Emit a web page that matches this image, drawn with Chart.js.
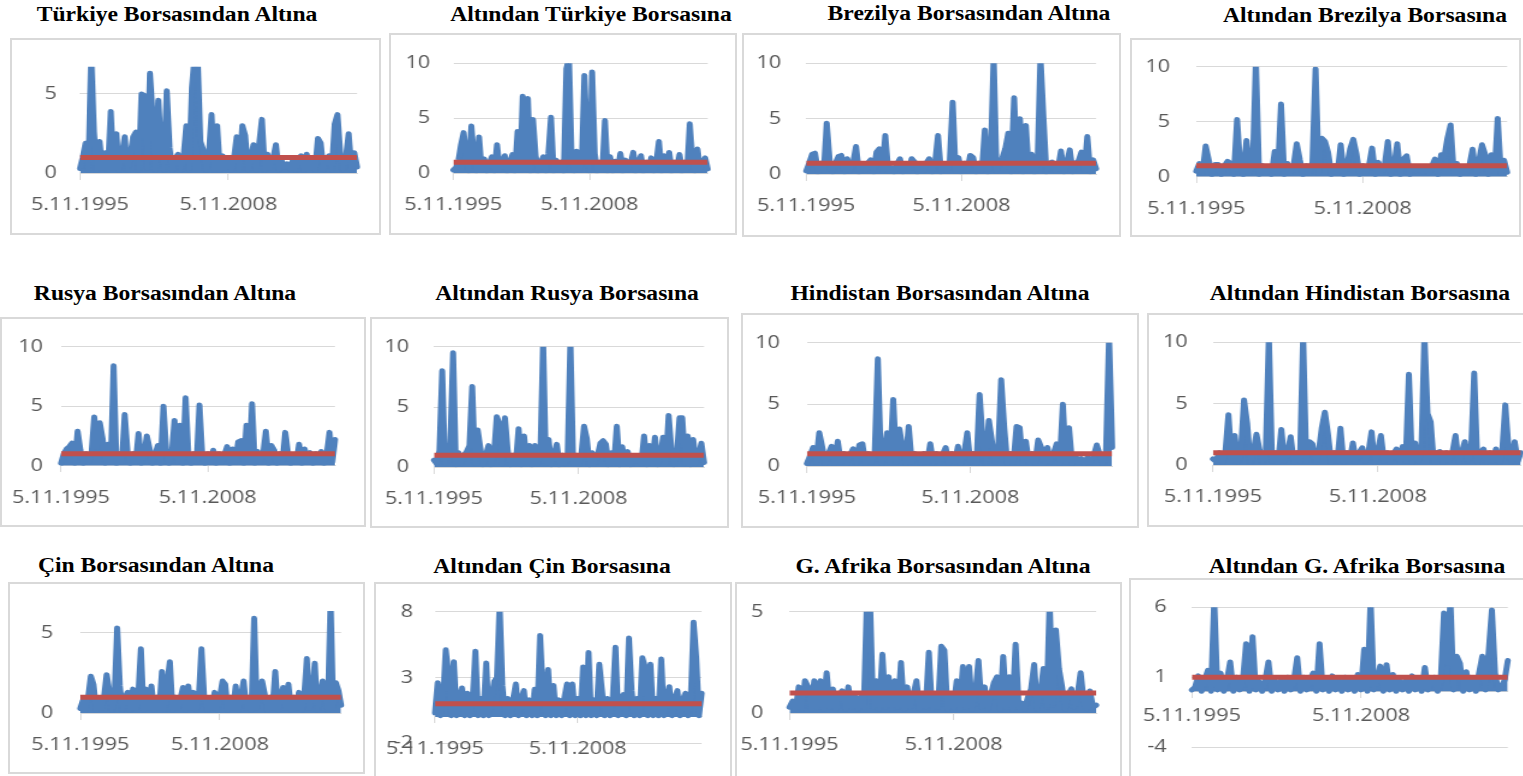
<!DOCTYPE html>
<html>
<head>
<meta charset="utf-8">
<script src="https://cdn.jsdelivr.net/npm/chart.js@4/dist/chart.umd.min.js"></script>
<style>
html, body { margin: 0; padding: 0; background: #fff; }
body { width: 1523px; height: 776px; position: relative; overflow: hidden; }
.title { position: absolute; font-family: "Liberation Serif", "Times New Roman", serif; font-weight: bold;
  font-size: 20px; line-height: 20px; white-space: nowrap; color: #000; transform: translateX(-50%) scaleX(1.18); }
.box { position: absolute; border: 2px solid #d9d9d9; box-sizing: border-box; }
.plot { position: absolute; transform-origin: 0 0; }
</style>
</head>
<body>
<script>
// x axis: observation index of each labelled date
var xTickLabels = ['5.11.1995', '5.11.2008'];
var xTickIndex = [0, 53];
var refLevel = 1;

var titles = [
  'Türkiye Borsasından Altına', 'Altından Türkiye Borsasına',
  'Brezilya Borsasından Altına', 'Altından Brezilya Borsasına',
  'Rusya Borsasından Altına', 'Altından Rusya Borsasına',
  'Hindistan Borsasından Altına', 'Altından Hindistan Borsasına',
  'Çin Borsasından Altına', 'Altından Çin Borsasına',
  'G. Afrika Borsasından Altına', 'Altından G. Afrika Borsasına'
];

var trToGold = [0.3,1.0,1.9,0.2,7.5,2.6,0.2,2.0,0.3,1.3,
  0.2,3.9,0.3,2.5,0.2,1.1,2.3,0.2,1.0,2.3,
  2.6,0.2,5.0,4.9,0.3,6.3,3.5,0.2,4.6,1.5,
  0.2,5.2,1.6,0.2,0.9,1.2,0.2,1.0,3.0,0.2,
  5.4,7.5,7.5,2.0,1.5,0.2,1.0,3.7,0.2,3.0,
  0.2,1.1,0.3,1.0,0.2,0.9,2.3,0.2,3.0,2.4,
  0.2,1.0,1.8,0.2,1.8,3.4,0.2,1.2,0.3,0.9,
  1.8,0.2,0.8,0.4,0.6,0.3,0.8,0.2,0.9,1.1,
  0.2,1.2,0.3,0.9,0.2,2.2,1.9,0.2,0.9,1.1,
  0.2,3.1,3.7,1.2,0.2,1.0,2.5,0.2,1.3,0.4];

var goldToTr = [0.3,0.5,1.2,2.6,3.7,1.5,0.2,4.3,1.4,0.2,
  3.3,0.3,1.3,0.2,0.9,1.5,0.2,2.6,0.3,1.0,
  1.6,0.2,1.0,1.7,0.2,3.8,0.3,7.0,0.4,6.8,
  0.2,4.9,1.6,0.2,1.0,1.5,0.2,1.8,5.1,0.2,
  1.2,0.3,1.0,0.2,9.5,10.5,1.5,0.2,2.0,0.3,
  1.0,8.9,2.0,0.2,9.2,1.8,0.2,1.0,0.3,4.8,
  0.2,1.5,0.2,1.1,0.3,1.8,0.2,1.2,0.3,0.9,
  1.9,0.2,1.0,1.6,0.2,1.0,0.3,1.4,0.2,1.0,
  2.9,0.2,1.6,0.3,1.9,0.2,1.0,0.3,1.7,0.2,
  1.0,0.3,4.5,1.4,0.2,2.2,0.3,1.0,1.4,0.4];

var brToGold = [0.3,1.0,1.8,1.9,0.2,1.0,0.3,4.6,1.2,0.2,
  1.0,1.6,1.7,0.2,1.4,0.3,1.0,2.5,0.2,0.9,
  0.3,1.0,1.3,0.2,2.0,2.3,0.3,3.5,0.3,0.6,
  0.2,0.9,1.4,0.2,0.9,0.3,1.4,1.1,0.2,0.9,
  0.3,1.0,1.4,0.2,1.0,3.5,0.2,0.9,0.3,1.0,
  6.5,0.3,1.5,0.2,1.0,0.3,1.7,1.5,0.2,1.0,
  0.3,4.0,0.2,1.2,10.5,0.3,1.0,1.5,2.3,3.7,
  0.2,6.9,0.3,5.0,0.2,4.4,0.3,1.8,0.2,1.0,
  10.5,5.2,0.2,1.0,1.1,0.3,0.5,2.1,0.2,1.0,
  2.2,0.2,1.0,1.2,2.0,0.3,3.4,0.2,1.3,0.5];

var goldToBr = [0.5,1.2,0.3,2.8,1.5,0.2,1.1,1.1,0.2,1.0,
  1.4,1.2,0.2,5.2,1.0,0.2,3.3,0.3,1.0,10.5,
  0.2,1.0,0.3,0.9,0.2,2.3,0.3,6.6,0.2,1.2,
  0.3,1.0,3.0,1.5,0.2,1.0,0.3,1.3,9.8,0.3,
  3.5,3.2,2.2,0.2,1.0,0.3,2.9,0.2,1.0,2.5,
  3.4,2.1,0.2,1.0,0.3,1.0,2.6,0.2,1.3,0.3,
  1.0,3.2,0.2,1.0,3.0,0.2,1.6,1.9,0.2,0.9,
  0.5,0.8,0.4,0.8,0.3,0.9,1.6,0.2,2.0,1.8,
  3.5,4.7,0.3,1.2,0.2,0.8,0.3,1.0,2.5,0.2,
  1.4,2.9,2.0,0.2,2.0,0.3,5.3,0.3,1.5,0.4];

var ruToGold = [0.2,1.0,1.4,1.6,1.9,0.2,2.9,1.3,0.2,1.0,
  0.3,1.0,4.1,1.5,3.6,2.3,0.2,1.8,0.3,8.4,
  0.2,1.0,0.3,4.3,1.2,0.2,1.0,0.3,2.7,0.2,
  1.0,2.5,1.4,0.2,1.0,1.7,0.2,5.0,1.2,0.2,
  1.0,3.8,0.3,3.4,0.2,5.7,1.0,0.2,1.0,0.3,
  5.1,0.9,0.2,1.0,0.3,1.3,0.2,1.0,0.3,0.9,
  1.6,0.2,1.4,0.3,2.0,2.1,0.2,3.4,0.3,5.2,
  0.2,1.2,0.3,1.0,2.9,0.2,1.7,1.3,0.2,1.0,
  0.3,2.8,1.0,0.2,0.9,0.3,1.8,0.2,1.4,0.3,
  1.1,0.2,1.0,0.3,1.2,0.2,1.0,2.8,0.3,2.2];

var goldToRu = [0.6,0.3,1.4,8.0,0.3,1.0,2.0,9.5,0.2,1.2,
  0.3,1.0,1.3,1.8,6.7,0.3,3.1,1.6,0.2,1.0,
  1.8,0.2,1.0,4.2,3.6,0.3,4.1,1.4,0.2,1.0,
  0.3,3.2,0.2,2.6,0.3,1.8,0.2,1.8,0.3,1.0,
  10.5,0.3,2.3,0.2,1.0,1.9,0.2,1.0,0.3,0.9,
  10.5,0.3,1.0,0.2,1.0,3.4,2.4,0.2,1.2,0.3,
  1.0,2.0,2.2,1.9,0.2,1.2,0.3,3.4,0.2,1.7,
  0.3,1.3,0.2,0.8,0.5,0.7,0.3,2.6,0.2,1.8,
  0.3,2.5,0.2,1.0,2.5,0.3,4.3,1.5,0.2,1.0,
  4.1,4.1,0.3,2.6,0.2,2.3,0.3,1.0,2.0,0.4];

var inToGold = [0.2,0.8,1.5,0.3,2.7,1.5,0.2,1.0,1.6,0.2,
  2.0,0.3,1.0,0.2,0.9,1.4,0.2,1.7,1.8,0.2,
  1.0,0.3,1.0,8.7,0.2,1.0,2.7,0.3,5.4,0.3,
  3.0,1.5,0.2,3.2,0.3,1.0,0.9,0.2,1.0,0.3,
  1.8,0.2,1.0,0.3,0.9,1.5,0.2,1.0,0.3,1.6,
  0.2,1.0,2.7,0.3,1.0,0.2,5.8,2.0,0.2,3.7,
  2.0,0.3,1.0,7.0,3.1,0.2,1.0,0.3,3.2,3.1,
  0.2,2.0,0.3,1.0,0.2,2.1,1.5,0.2,1.5,0.3,
  1.0,1.8,0.2,5.0,0.3,3.1,0.2,0.9,0.3,0.6,
  0.2,0.7,0.3,0.8,1.7,0.9,0.2,1.0,10.5,1.5];

var goldToIn = [0.5,0.3,1.0,0.2,1.0,4.1,0.3,2.4,0.2,1.0,
  5.3,3.4,0.2,1.0,2.5,1.2,0.2,1.0,10.5,0.3,
  1.0,0.2,2.9,0.3,1.0,2.3,0.2,1.0,0.3,10.5,
  0.3,1.9,1.7,0.2,1.0,3.0,4.3,2.5,0.2,1.0,
  0.3,3.0,0.2,1.0,0.3,1.8,0.2,1.0,1.4,0.3,
  1.0,2.7,0.2,1.0,2.4,0.3,1.0,0.2,0.9,1.3,
  0.2,1.5,0.3,7.4,0.2,1.8,0.3,1.0,10.5,4.2,
  3.5,0.2,1.0,1.1,0.2,1.0,0.3,1.0,2.4,0.2,
  1.0,1.9,0.3,1.0,7.5,0.2,1.0,1.3,0.2,1.0,
  0.3,1.3,0.2,1.0,4.9,1.5,0.2,1.9,0.3,1.0];

var cnToGold = [0.3,0.8,0.2,1.0,2.3,1.8,0.2,0.9,0.3,1.0,
  2.4,1.4,0.2,1.0,5.3,1.7,0.2,1.0,1.3,0.2,
  1.5,0.3,1.0,4.0,0.2,1.5,0.3,1.7,0.2,1.0,
  0.3,2.6,0.2,1.9,3.2,0.2,1.0,0.3,0.9,1.6,
  0.2,1.7,0.3,1.3,0.2,1.0,4.0,1.0,0.2,0.9,
  0.3,1.3,0.2,1.0,2.0,1.8,0.2,1.0,0.3,1.7,
  0.2,1.0,2.0,0.3,1.0,0.2,5.9,0.3,1.0,2.0,
  1.2,0.2,1.0,0.3,2.6,0.2,1.0,1.6,0.3,1.8,
  0.2,1.0,0.3,1.3,0.2,1.0,3.4,0.3,1.0,3.1,
  0.2,1.0,2.0,1.0,0.2,7.0,0.3,1.9,1.4,0.5];

var goldToCn = [0.3,2.6,0.1,1.4,5.1,3.3,0.1,4.2,0.1,1.4,
  2.2,0.1,1.8,0.1,1.3,5.0,0.1,1.4,0.1,4.1,
  0.1,1.3,2.7,3.0,8.5,2.4,0.1,1.4,0.1,1.3,
  2.5,0.1,1.4,2.0,0.1,1.3,0.1,2.1,0.1,6.2,
  2.2,0.1,3.6,0.1,2.4,0.1,1.3,0.1,1.4,2.5,
  0.1,2.5,0.1,1.4,0.1,3.8,0.1,4.9,0.1,1.3,
  0.1,4.0,2.0,0.1,1.4,0.1,1.3,5.3,0.1,1.4,
  1.7,0.1,6.0,2.0,0.1,1.4,0.1,4.5,3.8,0.1,
  4.0,0.1,1.4,0.1,4.4,0.1,1.3,2.3,0.1,1.4,
  2.0,0.1,1.3,1.8,0.1,1.4,7.2,4.5,0.1,1.8];

var zaToGold = [0.3,0.6,0.2,1.3,0.2,1.6,1.3,0.2,1.6,0.3,
  1.6,0.2,2.0,0.3,1.2,0.2,0.9,1.1,0.2,1.3,
  0.3,0.9,0.2,0.8,0.3,5.5,5.5,0.3,1.6,0.2,
  2.9,0.3,1.8,0.2,1.6,0.3,2.5,0.2,1.3,0.3,
  0.9,1.6,0.2,0.9,0.3,3.0,0.2,0.9,0.3,3.3,
  3.1,0.2,0.9,0.3,1.6,0.2,2.3,0.3,2.3,0.2,
  0.9,2.6,0.3,1.3,0.2,0.9,1.5,1.8,0.2,2.8,
  0.3,1.8,0.2,3.4,0.3,0.5,0.2,0.8,1.2,2.4,
  0.2,0.9,2.2,0.3,5.5,0.4,4.1,2.2,1.3,0.2,
  0.9,1.2,0.3,0.9,2.0,0.6,0.2,1.1,0.3,0.4];

var goldToZa = [0.1,0.3,1.1,0.0,0.8,1.5,0.0,6.5,0.1,1.3,
  0.0,0.8,2.1,0.0,1.0,0.1,0.8,3.4,0.0,3.9,
  0.1,0.7,0.0,0.8,2.1,0.0,0.8,0.1,0.8,0.0,
  1.0,0.1,0.8,2.4,0.0,1.0,0.1,0.8,1.3,0.0,
  3.4,0.1,0.8,0.0,1.1,0.1,0.8,0.0,1.0,0.1,
  0.8,0.0,1.2,0.1,3.0,0.0,6.5,0.1,0.8,1.8,
  0.0,1.9,0.1,1.2,0.0,0.8,0.1,0.8,0.0,1.1,
  0.1,0.8,0.0,1.7,0.1,0.8,1.0,0.0,0.8,5.6,
  2.0,6.5,0.1,2.5,2.0,0.0,1.4,0.1,0.8,0.0,
  1.3,2.5,0.1,2.8,5.8,1.3,0.1,0.3,0.8,2.2];

var series = [trToGold, goldToTr, brToGold, goldToBr, ruToGold, goldToRu,
  inToGold, goldToIn, cnToGold, goldToCn, zaToGold, goldToZa];

var yTicks = [[0, 5], [0, 5, 10], [0, 5, 10], [0, 5, 10], [0, 5, 10], [0, 5, 10],
  [0, 5, 10], [0, 5, 10], [0, 5], [-2, 3, 8], [0, 5], [-4, 1, 6]];
var yMin = [0, 0, 0, 0, 0, 0, 0, 0, 0, -2, 0, -4];
var yMax = [6.72, 10, 10, 10, 10, 10, 10, 10, 6.35, 8, 5, 6];

// page layout: title centre, box, plot area edges, y label gap, x label padding
var SX = 1.2;
var layout = [
  {tx: 176.5, ty: 14, bl: 10, bt: 38, br: 381, bb: 235, pl: 80, pr: 357, pt: 66.7, pb: 173.3, gap: 23, xp: 15},
  {tx: 590.5, ty: 13.5, bl: 389, bt: 33, br: 737, bb: 235, pl: 453.3, pr: 707.7, pt: 63.3, pb: 173.3, gap: 23, xp: 15},
  {tx: 969, ty: 13, bl: 742, bt: 33, br: 1121, bb: 237, pl: 806, pr: 1095, pt: 63.3, pb: 174.3, gap: 25, xp: 15},
  {tx: 1365, ty: 14.5, bl: 1130, bt: 38, br: 1521, bb: 237, pl: 1196, pr: 1506, pt: 66.7, pb: 176.7, gap: 26, xp: 15},
  {tx: 165, ty: 292.5, bl: 0, bt: 317, br: 366, bb: 527, pl: 61, pr: 335, pt: 346.7, pb: 465.7, gap: 18, xp: 15},
  {tx: 566.5, ty: 292.5, bl: 370, bt: 317, br: 729, bb: 528, pl: 434, pr: 704, pt: 346.7, pb: 467.3, gap: 25, xp: 15},
  {tx: 939.5, ty: 292.5, bl: 741, bt: 313, br: 1139, bb: 528, pl: 806.7, pr: 1111, pt: 342.7, pb: 466, gap: 27, xp: 15},
  {tx: 1359.5, ty: 292.5, bl: 1147, bt: 313, br: 1526, bb: 527, pl: 1212.7, pr: 1519.7, pt: 342.3, pb: 465, gap: 25, xp: 15},
  {tx: 155.5, ty: 565, bl: 8, bt: 582, br: 365, bb: 774, pl: 80, pr: 340, pt: 611, pb: 713.3, gap: 27, xp: 15},
  {tx: 551.7, ty: 565.5, bl: 374, bt: 582, br: 732, bb: 780, pl: 435, pr: 701.7, pt: 611.7, pb: 743.3, gap: 22, xp: 15},
  {tx: 942.5, ty: 566, bl: 735, bt: 582, br: 1122, bb: 780, pl: 789.3, pr: 1095, pt: 611.7, pb: 713.3, gap: 26, xp: 15},
  {tx: 1356.7, ty: 565.5, bl: 1129, bt: 578, br: 1526, bb: 780, pl: 1191.7, pr: 1506.7, pt: 607.3, pb: 747.3, gap: 25, xp: 8}
];

var tickFont = {family: '"Open Sans", "Liberation Sans", sans-serif', size: 18};
var tickColor = '#595959';
var gridColor = '#d9d9d9';
var blue = '#4F81BD';

series.forEach(function (values, i) {
  var L = layout[i];

  var t = document.createElement('div');
  t.className = 'title';
  t.style.left = L.tx + 'px';
  t.style.top = (L.ty - 10) + 'px';
  t.textContent = titles[i];
  document.body.appendChild(t);

  var box = document.createElement('div');
  box.className = 'box';
  box.style.left = L.bl + 'px';
  box.style.top = L.bt + 'px';
  box.style.width = (L.br - L.bl) + 'px';
  box.style.height = (L.bb - L.bt) + 'px';
  document.body.appendChild(box);

  var wrap = document.createElement('div');
  wrap.className = 'plot';
  wrap.style.left = L.bl + 'px';
  wrap.style.top = L.bt + 'px';
  wrap.style.width = ((L.br - L.bl) / SX) + 'px';
  wrap.style.height = (L.bb - L.bt) + 'px';
  wrap.style.transform = 'scaleX(' + SX + ')';
  var cv = document.createElement('canvas');
  wrap.appendChild(cv);
  document.body.appendChild(wrap);

  var ticksY = yTicks[i];
  var axisW = (L.pl - L.bl) / SX;

  new Chart(cv, {
    type: 'line',
    data: {
      datasets: [{
        data: [{x: 0, y: refLevel}, {x: values.length - 1, y: refLevel}],
        borderColor: '#C0504D',
        borderWidth: 5,
        borderCapStyle: 'butt',
        pointRadius: 0
      }, {
        data: values.map(function (v, k) { return {x: k, y: v}; }),
        borderColor: blue,
        backgroundColor: blue,
        fill: 'origin',
        borderWidth: 5,
        borderJoinStyle: 'round',
        borderCapStyle: 'round',
        pointRadius: 0,
        tension: 0,
        clip: {left: 5, right: 5, top: 0, bottom: 0}
      }]
    },
    options: {
      responsive: true,
      maintainAspectRatio: false,
      animation: false,
      events: [],
      layout: {padding: {left: 0, top: L.pt - L.bt, right: (L.br - L.pr) / SX, bottom: L.bb - L.pb}},
      plugins: {legend: {display: false}, tooltip: {enabled: false}},
      scales: {
        x: {
          type: 'linear',
          min: 0,
          max: values.length - 1,
          position: {y: 0},
          grid: {drawOnChartArea: false, color: gridColor, tickLength: 6},
          border: {color: gridColor},
          ticks: {
            font: tickFont, color: tickColor, padding: L.xp, maxRotation: 0,
            callback: function (v, k) { return xTickLabels[k]; }
          },
          afterBuildTicks: function (sc) {
            sc.ticks = xTickIndex.map(function (v) { return {value: v}; });
          },
          afterFit: function (sc) { sc.paddingLeft = 0; sc.paddingRight = 0; }
        },
        y: {
          type: 'linear',
          min: yMin[i],
          max: yMax[i],
          grid: {color: gridColor, drawTicks: false},
          border: {display: false},
          ticks: {font: tickFont, color: tickColor, padding: L.gap / SX},
          afterBuildTicks: function (sc) {
            sc.ticks = ticksY.map(function (v) { return {value: v}; });
          },
          afterFit: function (sc) { sc.width = axisW; sc.paddingTop = 0; sc.paddingBottom = 0; }
        }
      }
    }
  });
});
</script>
</body>
</html>
